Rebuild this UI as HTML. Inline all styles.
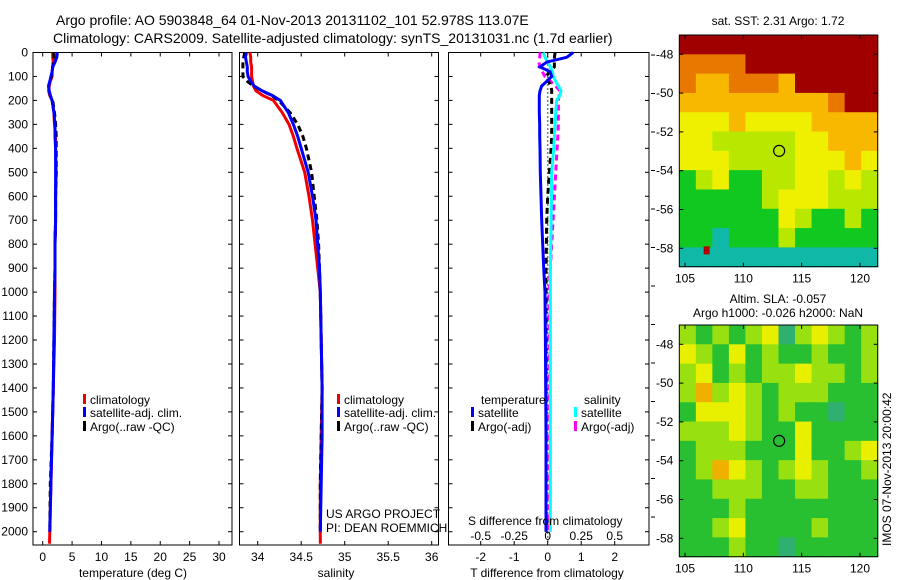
<!DOCTYPE html>
<html><head><meta charset="utf-8">
<style>
html,body{margin:0;padding:0;background:#fff;}
svg{display:block;font-family:"Liberation Sans",sans-serif;}
text{fill:#000;}
</style></head>
<body>
<svg id="c" width="900" height="580" viewBox="0 0 900 580" xmlns="http://www.w3.org/2000/svg">
<text x="56" y="25" font-size="14">Argo profile: AO 5903848_64 01-Nov-2013 20131102_101 52.978S 113.07E</text>
<text x="53" y="43" font-size="14">Climatology: CARS2009. Satellite-adjusted climatology: synTS_20131031.nc (1.7d earlier)</text>
</svg>
<script>
// ---- data ----
const depths = [0,20,40,60,80,100,120,140,160,180,200,250,300,350,400,500,600,700,800,900,1000,1200,1400,1600,1800,2000,2050];
const depthTicks = [0,100,200,300,400,500,600,700,800,900,1000,1100,1200,1300,1400,1500,1600,1700,1800,1900,2000];
const tempClim = [1.7,1.7,1.8,1.7,1.6,1.6,1.3,1.1,1.0,1.2,1.6,1.9,2.0,2.2,2.2,2.3,2.2,2.2,2.1,2.1,2.1,2.0,1.8,1.6,1.4,1.2,1.15];
const tempSat  = [2.5,2.4,2.1,1.7,1.6,1.4,1.2,1.0,1.1,1.3,1.6,1.9,2.1,2.1,2.2,2.2,2.2,2.2,2.1,2.1,2.0,1.9,1.8,1.6,1.4,1.2];
const tempArgo = [1.9,1.9,1.8,1.7,1.6,1.5,1.2,1.0,1.1,1.3,1.7,2.0,2.2,2.3,2.3,2.3,2.2,2.2,2.1,2.1,2.0,1.9,1.8,1.6,1.3,1.2];
const tempTicks = [0,5,10,15,20,25,30];
const salClim = [33.91,33.92,33.92,33.93,33.93,33.93,33.94,33.95,33.98,34.06,34.18,34.28,34.36,34.41,34.45,34.54,34.59,34.63,34.66,34.69,34.72,34.73,34.74,34.73,34.72,34.72,34.72];
const salSat  = [33.87,33.86,33.87,33.88,33.88,33.89,33.92,33.96,34.05,34.17,34.26,34.35,34.41,34.46,34.50,34.58,34.63,34.67,34.69,34.71,34.72,34.73,34.74,34.74,34.73,34.72];
const salArgo = [33.85,33.84,33.83,33.83,33.83,33.83,33.88,33.95,34.05,34.16,34.24,34.37,34.46,34.52,34.56,34.62,34.65,34.68,34.70,34.71,34.72,34.73,34.74,34.73,34.72,34.72];
const salTicks = [34,34.5,35,35.5,36];
const tDiffSat  = [0.76,0.57,-0.03,-0.23,0.07,0.12,-0.03,-0.18,-0.23,-0.25,-0.25,-0.25,-0.24,-0.24,-0.23,-0.22,-0.2,-0.18,-0.15,-0.12,-0.08,-0.07,-0.06,-0.05,-0.05,-0.05];
const tDiffArgo = [0.22,0.2,0.2,0.2,0.05,-0.05,0.02,0.1,0.12,0.12,0.12,0.12,0.12,0.12,0.1,0.05,0.0,-0.03,-0.04,-0.05,-0.05,-0.05,-0.05,-0.05,-0.05,-0.05];
const sDiffSat  = [-0.033,-0.02,0.0,0.02,0.035,0.042,0.06,0.08,0.10,0.09,0.067,0.06,0.055,0.05,0.045,0.03,0.028,0.025,0.023,0.02,0.02,0.02,0.02,0.02,0.02,0.02];
const sDiffArgo = [-0.057,-0.06,-0.065,-0.06,-0.04,-0.02,0.02,0.06,0.09,0.085,0.08,0.08,0.08,0.075,0.07,0.06,0.05,0.04,0.03,0.02,0.01,0.01,0.01,0.01,0.0,0.0];
const tDiffTicks = [-2,-1,0,1,2];
const sDiffTicks = [-0.5,-0.25,0,0.25,0.5];
const sDiffLabels = ["-0.5","-0.25","0","0.25","0.5"];
const lonTicks = [105,110,115,120];
const latTicks = [-48,-50,-52,-54,-56,-58];
const sstGrid = [
[7,7,7,7,7,7,7,7,7,7,7,7],
[6,6,6,6,7,7,7,7,7,7,7,7],
[6,5,5,6,6,6,5,7,7,7,7,7],
[5,5,5,5,5,5,5,5,5,6,7,7],
[4,4,4,5,4,4,4,4,5,5,5,5],
[4,4,3,3,3,3,3,4,4,5,5,5],
[4,4,4,3,3,3,3,4,4,4,5,4],
[2,3,4,2,2,3,3,4,4,3,4,3],
[2,2,2,2,2,3,4,4,4,3,3,3],
[2,2,2,2,2,2,4,3,2,2,3,2],
[2,2,1,2,2,2,3,2,2,2,2,2],
[1,1,1,1,1,1,1,1,1,1,1,1]];
const slaGrid = [
[3,2,3,2,3,4,1,3,4,3,2,3],
[4,3,2,4,2,3,2,2,3,2,2,3],
[3,4,2,3,2,3,3,4,3,3,2,3],
[3,5,3,4,3,2,3,3,3,2,2,2],
[2,4,4,4,3,2,3,2,2,1,2,2],
[3,3,3,4,3,2,2,4,2,2,2,2],
[2,3,3,3,2,2,2,4,2,2,3,4],
[2,3,5,4,3,2,3,4,3,2,2,3],
[2,2,3,3,3,2,2,3,3,2,2,2],
[2,2,2,3,2,2,2,2,2,2,2,2],
[2,2,3,4,2,2,2,2,3,2,2,2],
[2,2,2,3,2,2,1,2,2,2,2,2]];
const argoLon = 113.07, argoLat = -52.978;

const sstColors = ["#00c8e0","#10b8a8","#10c820","#b8e800","#eef000","#f8b800","#e87800","#a00000"];
const slaColors = ["#20c0c8","#30b070","#28c030","#98e010","#e8f000","#f0b000"];

const NS="http://www.w3.org/2000/svg";
const svg=document.getElementById('c');
function el(tag,attrs,parent){const e=document.createElementNS(NS,tag);for(const k in attrs)e.setAttribute(k,attrs[k]);(parent||svg).appendChild(e);return e;}
function txt(x,y,s,size,anchor,parent){const t=el('text',{x:x,y:y,'font-size':size||12,'text-anchor':anchor||'start'},parent);t.textContent=s;return t;}

const PT=52.5, PB=545;
const yD=d=>PT+d*(531.7-PT)/2000;

function panel(name,L,R,xFn,ticks,labels){
  const g=el('g',{});
  
  
  const r=el('rect',{x:L,y:PT,width:R-L,height:PB-PT,fill:'none',stroke:'#000','stroke-width':1},g);
  
  
  ticks.forEach((t,i)=>{const x=xFn(t);
    el('line',{x1:x,y1:PB,x2:x,y2:PB-4,stroke:'#000'},g);
    el('line',{x1:x,y1:PT,x2:x,y2:PT+4,stroke:'#000'},g);
    if(labels){const tl=txt(x,PB+16,labels[i],12,'middle',g);
      
      }
  });
  depthTicks.forEach(d=>{const y=yD(d);
    el('line',{x1:L,y1:y,x2:L+4,y2:y,stroke:'#000'},g);
    el('line',{x1:R,y1:y,x2:R-4,y2:y,stroke:'#000'},g);});
  return g;
}
function line(g,xs,xFn,color,dash,name){
  const pts=xs.map((v,i)=>xFn(v).toFixed(1)+','+yD(depths[i]).toFixed(1)).join(' ');
  const p=el('polyline',{points:pts,fill:'none',stroke:color,'stroke-width':3},g);
  if(dash)p.setAttribute('stroke-dasharray',dash);
  
  
}
function legend(g,x,y,color,label){
  el('rect',{x:x,y:y-10,width:3,height:10,fill:color},g);
  const t=txt(x+7,y,label,12,'start',g);
  
  
}

const xT=t=>42.7+t*(219-42.7)/30;
const g1=panel('temperature-panel',33,232,xT,tempTicks,tempTicks.map(String));
line(g1,tempClim,xT,'#f00000',null,'temp-climatology-line');
line(g1,tempArgo,xT,'#000',"6,4",'temp-argo-line');
line(g1,tempSat,xT,'#0000ff',null,'temp-satellite-line');
depthTicks.forEach(d=>{const t=txt(28,yD(d)+4,String(d),12,'end',g1);
  
  });
legend(g1,83,404,'#f00000','climatology');
legend(g1,83,417,'#0000ff','satellite-adj. clim.');
legend(g1,83,431,'#000','Argo(..raw -QC)');
const xt1=txt(133,577,'temperature (deg C)',12,'middle',g1);



const xS=s=>257.7+(s-34)*(431.7-257.7)/2;
const g2=panel('salinity-panel',239.5,438.5,xS,salTicks,salTicks.map(String));
line(g2,salClim,xS,'#f00000',null,'sal-climatology-line');
line(g2,salArgo,xS,'#000',"6,4",'sal-argo-line');
line(g2,salSat,xS,'#0000ff',null,'sal-satellite-line');
legend(g2,337,404,'#f00000','climatology');
legend(g2,337,417,'#0000ff','satellite-adj. clim.');
legend(g2,337,431,'#000','Argo(..raw -QC)');
txt(326,518,'US ARGO PROJECT',12,'start',g2);
txt(326,532,'PI: DEAN ROEMMICH',12,'start',g2);
const xt2=txt(336,577,'salinity',12,'middle',g2);



const xDT=t=>547.7+t*33.5;
const xDS=s=>547.7+s*134;
const g3=panel('difference-panel',448.5,649,xDT,tDiffTicks,tDiffTicks.map(String));
el('line',{x1:xDT(0),y1:PT,x2:xDT(0),y2:PB,stroke:'#000','stroke-width':1.5,'stroke-dasharray':'1,3'},g3);
line(g3,sDiffArgo,xDS,'#ff00ff',"6,4",'sdiff-argo-line');
line(g3,tDiffArgo,xDT,'#000',"6,4",'tdiff-argo-line');
line(g3,sDiffSat,xDS,'#00ffff',null,'sdiff-satellite-line');
line(g3,tDiffSat,xDT,'#0000ff',null,'tdiff-satellite-line');
sDiffTicks.forEach((s,i)=>{const t=txt(xDS(s),540,sDiffLabels[i],12,'middle',g3);
  
  });
txt(468,525,'S difference from climatology',12,'start',g3);
for(let y=55;y<=546;y+=38.5)el('line',{x1:651,y1:y,x2:655,y2:y,stroke:'#000'},g3);
txt(481,404,'temperature',12,'start',g3);
txt(584,404,'salinity',12,'start',g3);
legend(g3,471,417,'#0000ff','satellite');
legend(g3,471,431,'#000','Argo(-adj)');
legend(g3,574,417,'#00ffff','satellite');
legend(g3,574,431,'#ff00ff','Argo(-adj)');
const xt3=txt(547,577,'T difference from climatology',12,'middle',g3);



function map(name,top,grid,colors){
  const L=679.3,R=877.7,B=top+231.7;
  const xL=lon=>685+(lon-105)*(860-685)/15;
  const yL=lat=>top+19.3+(-48-lat)*(248.3-54.3)/10;
  const g=el('g',{});
  
  
  const nr=grid.length,nc=grid[0].length;
  const cw=(R-L)/nc,ch=(B-top)/nr;
  grid.forEach((row,i)=>row.forEach((v,j)=>{
    const c=el('rect',{x:(L+j*cw).toFixed(2),y:(top+i*ch).toFixed(2),width:(cw+0.6).toFixed(2),height:(ch+0.6).toFixed(2),fill:colors[v]},g);
    
    
  }));
  el('rect',{x:L,y:top,width:R-L,height:B-top,fill:'none',stroke:'#000'},g);
  lonTicks.forEach(l=>{const x=xL(l);
    el('line',{x1:x,y1:B,x2:x,y2:B-4,stroke:'#000'},g);
    el('line',{x1:x,y1:top,x2:x,y2:top+4,stroke:'#000'},g);
    const t=txt(x,B+16,String(l),12,'middle',g);
    
    });
  latTicks.forEach(l=>{const y=yL(l);
    el('line',{x1:L,y1:y,x2:L+4,y2:y,stroke:'#000'},g);
    el('line',{x1:R,y1:y,x2:R-4,y2:y,stroke:'#000'},g);
    const t=txt(L-6,y+4,String(l),12,'end',g);
    
    });
  const m=el('circle',{cx:xL(argoLon),cy:yL(argoLat),r:5.5,fill:'none',stroke:'#000','stroke-width':1.2},g);
  
  
  return {g,xL,yL};
}
const m1=map('sst-map',35,sstGrid,sstColors);
el('rect',{x:m1.xL(106.6),y:m1.yL(-57.9),width:6,height:8,fill:'#b00000'},m1.g);
txt(778,25,'sat. SST: 2.31 Argo: 1.72',12,'middle');
const m2=map('sla-map',325,slaGrid,slaColors);
txt(778,303,'Altim. SLA: -0.057',12,'middle');
txt(778,317,'Argo h1000: -0.026 h2000: NaN',12,'middle');
const rt=el('text',{x:0,y:0,'font-size':12,transform:'translate(891,546) rotate(-90)'});
rt.textContent='IMOS 07-Nov-2013 20:00:42';


</script>
</body></html>
